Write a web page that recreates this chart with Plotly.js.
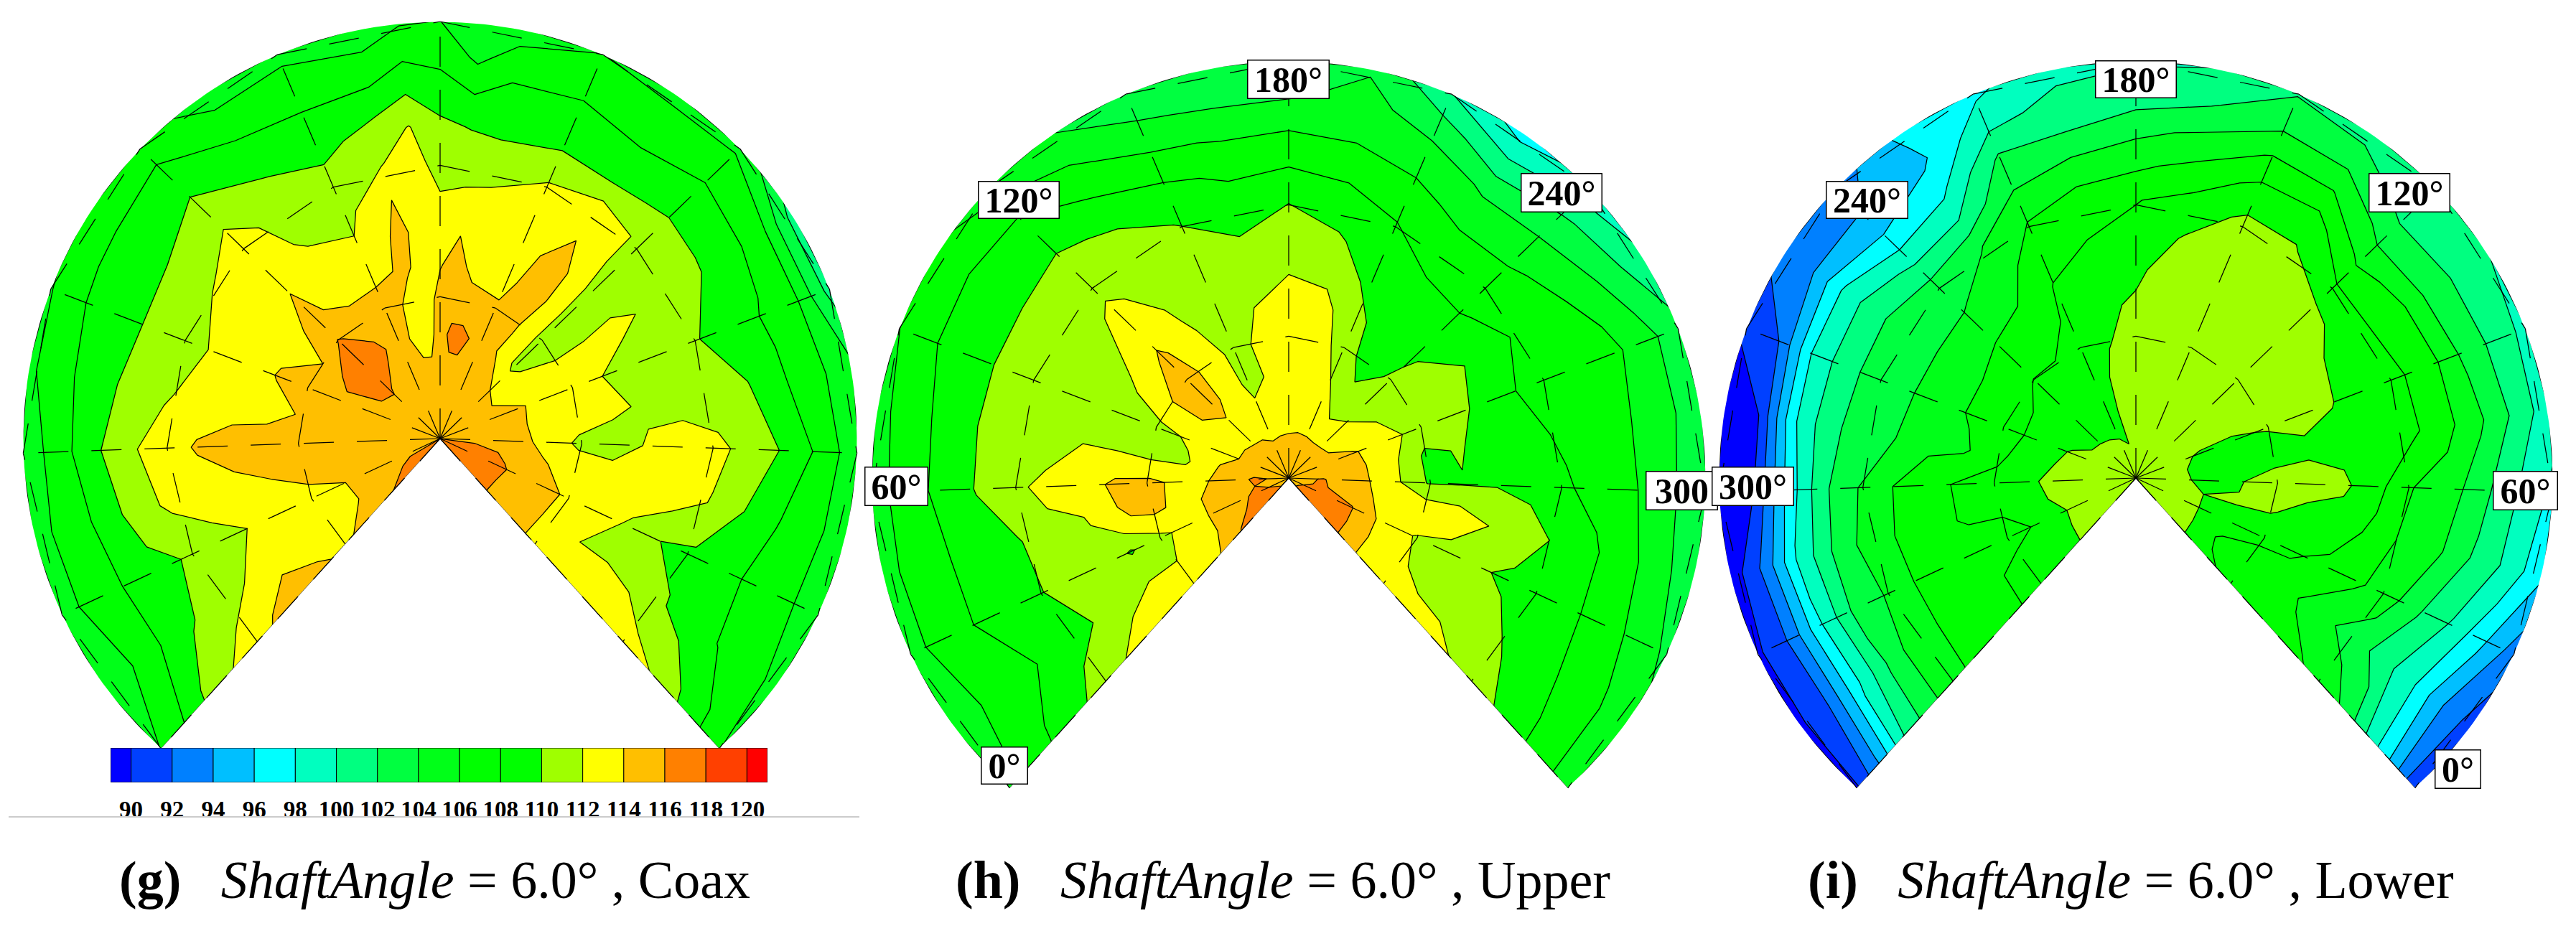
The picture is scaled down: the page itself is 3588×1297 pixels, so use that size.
<!DOCTYPE html>
<html><head><meta charset="utf-8">
<script src="https://cdn.plot.ly/plotly-3.0.1.min.js"></script>
<style>html,body{margin:0;padding:0;background:#fff}#c{width:3588px;height:1297px}</style></head>
<body><div id="c"></div>
<script>
const W=3588,H=1297;
const radii=[0.002,1/12,2/12,3/12,4/12,5/12,6/12,7/12,8/12,9/12,10/12,11/12,1.003];
const phiStd=[-138,-126.5,-115,-103.5,-92,-80.5,-69,-57.5,-46,-34.5,-23,-11.5,0,11.5,23,34.5,46,57.5,69,80.5,92,103.5,115,126.5,138];
const phiG=[-138,-126.5,-115,-103.5,-92,-80.5,-69,-57.5,-46,-34.5,-23,-11.5,-5.75,0,5.75,11.5,23,34.5,46,57.5,69,80.5,92,103.5,115,126.5,138];
const barValues=[90,92,94,96,98,100,102,104,106,108,110,112,114,116,118,120];
const bandColors=['#0000ff','#0040ff','#0080ff','#00bfff','#00ffff','#00ffbf','#00ff80','#00ff40','#00ff18','#00ff00','#00ff00','#9fff00','#ffff00','#ffbf00','#ff8000','#ff4000','#ff0000'];
const coaxZ=[
[116,116.5,116,114.5,113.8,114.1,114.5,114.3,112.8,111.9,110.3,108,106],
[116,116.5,115,113.9,113.5,113.7,113.7,112,111,109.7,108,106,105],
[116,115.5,115,114,113.4,113.2,112.1,111.3,110.2,109.3,108.1,106.8,105],
[116,115.5,115,115,114.6,114,113.4,113,112.4,111,108.5,106.9,105],
[116,115.5,115,115,115,115,115,114.2,113,111.6,109.5,107,104.5],
[116,115.5,115.7,115,114.2,113.3,113,112.9,111.7,110.7,109,107.5,105.5],
[116,115.5,115.7,115,114.3,114.1,113,112.1,111.4,110.2,109,107.9,105.8],
[116,115.3,116,117,114,113.7,113.3,113,111.7,110.3,109.3,108.1,106.5],
[116,115,116.2,117,116.2,114.3,114,113.4,112.6,111.7,110,108.5,107],
[116,115,115,116.6,115,113.4,113,111.6,111.3,110.1,108.8,106.8,105],
[116,115.3,114.5,114.5,114.8,113.7,112.3,111.4,110.9,109.3,108.3,106.8,105.5],
[116,115.3,114.3,113.5,113.5,114.2,114.5,114,112.1,111,108.7,106.5,105],
[116,115,114.4,113.3,113.2,113.5,113.4,113.6,112.7,112.1,109.9,107.8,105.8],
[116,115.5,115.2,115,114.6,113.9,113,112.1,111.2,110.4,109,107.4,106],
[116,115.3,115.5,116.5,115,114.6,113.9,112.3,111.2,109.9,107.9,105.6,104.5],
[116,115.5,115.5,116.6,114.7,113.5,113,112.6,111,109.7,108.8,107,105],
[116,115.5,115.4,115.2,114.2,113.6,113,112.9,112,110,108.9,107.3,106],
[116,115.5,115,113.8,114.1,115,115,113.9,113,109.6,108.2,107,105.5],
[116,115.5,114,111.5,111.4,111.4,111.4,111.4,111.7,110.3,108.3,107.8,105.5],
[116,115.3,113.6,112.9,112.1,112.1,112.2,111.9,111.1,109.9,108.6,106.5,101],
[116,115,114.7,113.6,113,112,111.6,111,110,109,107.8,106.2,101],
[116,115.2,114.7,113.4,112.9,112.4,111.7,111.5,111,110.1,108.2,106.5,104.5],
[116,115.5,115,113.5,111.6,111,112.2,112.6,112.4,111.3,109.6,107.4,104.5],
[116,116.5,115.8,114.2,113.2,113.2,113,113,111.9,110,108.1,106.8,104.5],
[116,116.7,116.1,115.2,113.7,113,111.7,110,109.6,108.8,107.4,106.3,105],
[116,117,116,115,113.5,112,112,111.7,110.1,109,107.9,106.8,105.5],
[116,117.3,116,114.8,113.6,113,113,113,112.8,112,110.4,108.4,106]];
const upperZ=[
[115.5,117.2,116.1,113.8,113.4,113,112.6,112,110.8,109.6,108.3,106.8,105.5],
[115.5,116.8,115.2,113,112,112,111.5,110,109.1,108,107,106,105],
[115.5,116.3,115.2,113,111.6,109.8,111.3,110.7,109.8,109.1,108,106.8,105.2],
[115.5,116,115,113.3,114.4,113.8,111.7,111.4,109.8,109.1,108,106.7,105.3],
[115.5,116.3,114.3,113.3,114.5,114.4,113,112.5,111.5,110.1,108.6,107,105],
[115.5,115.2,114.1,111.7,111.5,111.9,112,111,110.7,110.1,108.7,107,105.3],
[115.5,114.7,113.4,112.3,111.4,111.2,111,110.9,110.6,110.1,108.9,107.8,105.9],
[115.5,114.7,113.3,113.9,113.9,112.3,111.5,111.2,111,110.1,109,107.9,106.5],
[115.5,114.5,113.2,114.8,115.2,114.4,113,112.3,111.4,110.3,109.3,107.7,104.8],
[115.5,114.5,113,112.9,112.8,112.2,111.8,111.3,110.7,109.7,107.6,105.9,104],
[115.5,114.3,112.4,111.6,111.5,111.3,111,110.7,109.9,108.5,106.4,104.2,103],
[115.5,114.4,112.7,112.1,112.3,112,111.4,110.1,109,107.6,105.8,103.7,102.6],
[115.5,114.2,113.5,113.2,113,112.6,111.9,110.9,109.9,107.9,106,103.8,102.5],
[115.5,114.2,113.6,113.3,113.2,112.6,111.5,110.3,109,107.5,105.7,104.6,103.8],
[115.5,114.3,113.3,112.1,111,110.5,109.5,108.7,108,106.5,105.2,103,100],
[115.5,114.6,112.1,110.5,109.1,108.9,108.6,108,107,105.5,103.7,100.5,97],
[115.5,114.6,112.3,111.4,110.3,109.8,109,107.8,107,105.7,104,101.8,98.6],
[115.5,114.6,112.9,112,111.8,111,110,108.6,107.5,106.6,105.3,102.8,100.2],
[115.5,114.4,114.2,112.8,111.2,110.4,109.7,108,107.5,107,106.5,104.8,102.6],
[115.5,114.9,114.5,112.6,109.6,110.15,109,108.5,107.7,107,106,104.6,102.5],
[115.5,116.1,114.7,112.6,109.9,109.9,109.9,109.4,108.2,107.3,106.1,104.4,102],
[115.5,116.2,115,113,113.4,113.2,111.9,111,109.6,108.3,106.7,104.7,102.5],
[115.5,116.6,116.1,113.4,111.9,111.3,110.3,109.6,109,108.4,106.9,105.5,103.5],
[115.5,117,116.2,113.6,112.3,111.2,110.9,110.7,109.6,108.8,107.5,106.2,104.6],
[115.5,117.2,116.3,113.7,113,112.9,112.7,111.9,110.9,109.8,108.3,106.7,104.7]];
const lowerZ=[
[110.5,110.7,110.2,109.7,108.8,107.9,107.2,106.4,105.2,102.9,99.9,94.2,89.5],
[110.5,110.8,110.4,109,108.5,107.8,107,106.1,105,101.8,97.5,92,89.5],
[110.5,110.8,110.4,108.3,107.4,107.1,106.6,106.1,104,102.2,97.8,92.2,89.5],
[110.5,110.8,110.6,109.6,108.2,108.2,107.5,106.2,104.7,102,98.3,92.5,88.5],
[110.5,110.8,110.4,109.9,108.7,108.3,107.4,106,104,101.6,96.8,90,88],
[110.5,110.8,110.3,109.5,107.5,105.7,105.4,104,103,101.3,97.6,90,87.5],
[110.5,110.8,110.2,108.4,107.5,106.2,105.4,103.7,102.9,101.1,98,92,90.5],
[110.5,110.7,109.3,108.5,107.5,106.3,105,103.7,102.9,101.2,98.2,94,92.6],
[110.5,110.5,109.3,108.7,108.1,107.1,105.3,103.8,102.7,99.5,96.2,94,92.6],
[110.5,110.3,109.4,108.8,108.1,107,106,105,103.8,100,97.3,95.5,96.5],
[110.5,110.2,109.3,108.9,108.6,108.3,108.1,107.1,106,104,102.4,99.5,97.5],
[110.5,110,110.3,110.4,109.9,109.7,109.4,108,107,105.2,102.3,100.5,99.5],
[110.5,110.6,110.7,110.8,110.6,110.2,109.7,108.6,107.9,105.6,103.5,101,99.8],
[110.5,110.7,111,111,111,110.9,110.8,110.2,108.8,106.7,104.4,101.8,100],
[110.5,110.7,111,111.2,111.2,111.2,111.2,111.1,110.4,108.6,106.2,103.6,101.8],
[110.5,110.7,111.1,111.3,111.3,111.4,111.4,111.2,110.2,108.9,106.1,103.4,101.1],
[110.5,110.4,110.7,110.8,111,111.2,111.1,110.5,108.1,105.5,103.2,101,100.2],
[110.5,110.3,110.4,110.7,111,111,110.5,109.3,108,106.6,103.3,101.5,100],
[110.5,110.3,109.9,109.8,110.1,110.6,110.1,109.1,108.4,107,103.8,101.5,99.3],
[110.5,110.2,109.8,109,109.3,109.6,109.3,108.9,108.5,106.7,104.4,101.7,98.8],
[110.5,110.3,109.8,109.9,110.8,110.9,110.4,108.5,106,105,102.6,100,97.5],
[110.5,110.2,110,110.1,110.2,109.2,108.9,107.6,105.3,104.2,101.7,99.5,96.3],
[110.5,110.2,110,109.3,108.3,108.2,107.6,106.4,105,102.2,99.8,96.5,92.8],
[110.5,110.1,110.1,107.6,107.4,107.3,105.7,104.2,102.8,100.6,98,94,91],
[110.5,110.5,110.2,108.3,107.6,107.2,106.7,106.2,105.2,103.6,99.6,95.6,89.8]];
const spokeAngles=[-138,-115,-92,-69,-46,-23,0,23,46,69,92,115,138];
const ringRadii=[0.34,0.655,1];
const rimValue=125, rimInnerR=0.0005, rimOuterR=1.015, rimPhi=150, maskR=1.02;
const d2r=Math.PI/180;
const colorscale=bandColors.map((c,i)=>[i/16,c]);
const traces=[];
const layout={width:W,height:H,margin:{l:0,r:0,t:0,b:0},paper_bgcolor:'#fff',plot_bgcolor:'rgba(0,0,0,0)',showlegend:false,annotations:[],shapes:[]};

function panel(idx,id,phis,z,cx,cy,R){
  const sx=idx===1?'':idx, xa='x'+sx, ya='y'+sx, Rm=R*maskR;
  layout['xaxis'+sx]={domain:[(cx-Rm)/W,(cx+Rm)/W],range:[-maskR,maskR],visible:false,fixedrange:true,anchor:ya};
  layout['yaxis'+sx]={domain:[1-(cy+Rm)/H,1-(cy-Rm)/H],range:[-maskR,maskR],visible:false,fixedrange:true,anchor:xa};
  // padded polar mesh: a raised rim keeps every contour closed; the rim sits under the white mask
  const a=[rimInnerR,...radii,rimOuterR], b=[-rimPhi,...phis,rimPhi];
  const rimRow=a.map(()=>rimValue);
  const zz=[rimRow,...z.map(col=>[rimValue,...col,rimValue]),rimRow];
  const x=b.map(p=>a.map(r=>r*Math.sin(p*d2r))), y=b.map(p=>a.map(r=>r*Math.cos(p*d2r)));
  const ax={showticklabels:'none',showgrid:false,showline:false,startline:false,endline:false,minorgridcount:0,tickmode:'array',tickvals:[],title:{text:''}};
  traces.push({type:'carpet',carpet:id,a:a,b:b,x:x,y:y,xaxis:xa,yaxis:ya,
    aaxis:Object.assign({smoothing:0},ax),baxis:Object.assign({smoothing:1},ax)});
  traces.push({type:'contourcarpet',carpet:id,a:a,b:b,z:zz,xaxis:xa,yaxis:ya,autocontour:false,
    contours:{start:90,end:120,size:2,coloring:'fill',showlines:true},
    line:{color:'#000',width:1.25,smoothing:0},colorscale:colorscale,showscale:false,hoverinfo:'skip'});
  // white mask: everything outside the 276-degree sector
  const mx=[],my=[];
  for(let p=180;p<=540;p+=1){mx.push(maskR*Math.sin(p*d2r));my.push(maskR*Math.cos(p*d2r));}
  mx.push(0);my.push(0);
  for(let p=138;p>=-138;p-=1){mx.push(0.999*Math.sin(p*d2r));my.push(0.999*Math.cos(p*d2r));}
  mx.push(0,0);my.push(0,-maskR);
  traces.push({type:'scatter',mode:'lines',x:mx,y:my,xaxis:xa,yaxis:ya,fill:'toself',fillcolor:'#fff',line:{width:0,color:'#fff'},hoverinfo:'skip'});
  // wedge edges
  const ex=[Math.sin(-138*d2r),0,Math.sin(138*d2r)],ey=[Math.cos(-138*d2r),0,Math.cos(138*d2r)];
  traces.push({type:'scatter',mode:'lines',x:ex,y:ey,xaxis:xa,yaxis:ya,line:{color:'#444',width:0.7},hoverinfo:'skip'});
  // dashed mesh
  const gx=[],gy=[];
  spokeAngles.forEach(p=>{gx.push(0,Math.sin(p*d2r),null);gy.push(0,Math.cos(p*d2r),null);});
  ringRadii.forEach(r=>{for(let i=0;i<spokeAngles.length-1;i++){const p=spokeAngles[i],q=spokeAngles[i+1];
    gx.push(r*Math.sin(p*d2r),r*Math.sin(q*d2r),null);gy.push(r*Math.cos(p*d2r),r*Math.cos(q*d2r),null);}});
  traces.push({type:'scatter',mode:'lines',x:gx,y:gy,xaxis:xa,yaxis:ya,line:{color:'#000',width:1.25,dash:'42px,32px'},hoverinfo:'skip'});
}
panel(1,'g',phiG,coaxZ,613,611,581);
panel(2,'h',phiStd,upperZ,1795,666,581);
panel(3,'i',phiStd,lowerZ,2975,666,581);

// colour bar
const bx=[89.5],bw=[1];
for(let v=91;v<=119;v+=2){bx.push(v);bw.push(2);} bx.push(120.5);bw.push(1);
layout.xaxis4={domain:[154/W,1069/W],range:[89,121],anchor:'y4',fixedrange:true,showgrid:false,zeroline:false,showline:false,
  tickmode:'array',tickvals:barValues,ticktext:barValues.map(String),ticks:'outside',ticklen:8,tickcolor:'rgba(0,0,0,0)',
  tickfont:{family:'Liberation Serif',size:33,color:'#000',weight:'bold'}};
layout.yaxis4={domain:[1-1090/H,1-1042/H],range:[0,1],anchor:'x4',visible:false,fixedrange:true};
traces.push({type:'bar',x:bx,y:bx.map(()=>1),width:bw,xaxis:'x4',yaxis:'y4',marker:{color:bandColors,line:{color:'#000',width:1}},hoverinfo:'skip'});
layout.shapes.push({type:'line',xref:'paper',yref:'paper',x0:12/W,x1:1197/W,y0:1-1138/H,y1:1-1138/H,line:{color:'#cccccc',width:2}});

function box(text,px0,px1,py0,py1){
  layout.annotations.push({xref:'paper',yref:'paper',x:(px0+px1)/2/W,y:1-(py0+py1)/2/H,xanchor:'center',yanchor:'middle',text:'<b>'+text+'</b>',showarrow:false,
    width:px1-px0-6,height:py1-py0-6,bgcolor:'#fff',bordercolor:'#000',borderwidth:1.5,borderpad:2,align:'center',valign:'middle',
    font:{family:'Liberation Serif',size:50,color:'#000'}});
}
box('180°',1737,1851,83,137);box('120°',1362,1475,252,304);box('240°',2118,2231,242,296);box('60°',1204,1292,650,704);box('300',2292,2392,656,710);box('0°',1366,1431,1040,1092);
box('180°',2918,3031,84,136);box('240°',2543,2657,252,304);box('120°',3299,3412,242,296);box('300°',2384,2498,650,704);box('60°',3472,3562,656,710);box('0°',3391,3455,1044,1098);

function caption(tag,rest,cx){
  layout.annotations.push({xref:'paper',yref:'paper',x:cx/W,y:1-1226/H,xanchor:'center',yanchor:'middle',showarrow:false,
    text:'<b>('+tag+')</b>   <i>ShaftAngle</i> = 6.0° , '+rest,font:{family:'Liberation Serif',size:74,color:'#000'}});
}
caption('g','Coax',605);caption('h','Upper',1787);caption('i','Lower',2968);
Plotly.newPlot('c',traces,layout,{staticPlot:true,displayModeBar:false});
</script></body></html>
